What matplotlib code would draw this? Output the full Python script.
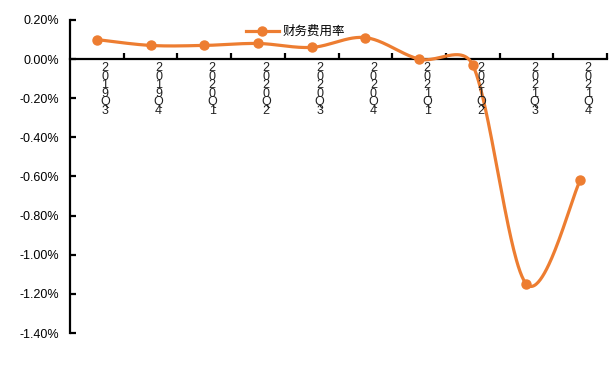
import numpy as np
import matplotlib
matplotlib.use("Agg")
from matplotlib import pyplot as plt
from matplotlib.ticker import FuncFormatter, MultipleLocator

plt.rcParams['font.family'] = ['Liberation Sans', 'Noto Sans CJK SC', 'DejaVu Sans']

# quarterly finance-expense ratio, in percent
quarters = ["2019Q3", "2019Q4", "2020Q1", "2020Q2", "2020Q3",
            "2020Q4", "2021Q1", "2021Q2", "2021Q3", "2021Q4"]
ratio = [0.10, 0.07, 0.07, 0.08, 0.06, 0.11, 0.00, -0.03, -1.15, -0.62]
series_name = "财务费用率"

color = "#ED7D31"

# pixel scale of one x unit / one percent, so the smoothing works in screen space
XPX, YPX = 53.7, 195.6


def smooth(xs, ys, k=0.45, n=60):
    # Catmull-Rom style bezier (1/6 of the neighbour chord),
    # control arm capped at k times the segment length
    P = np.column_stack([np.asarray(xs, float) * XPX, np.asarray(ys, float) * YPX])
    m = len(P)
    tang = [(P[min(i + 1, m - 1)] - P[max(i - 1, 0)]) / 6 for i in range(m)]
    out = []
    for i in range(m - 1):
        L = np.hypot(*(P[i + 1] - P[i]))
        a1, a2 = tang[i], tang[i + 1]
        n1, n2 = np.hypot(*a1), np.hypot(*a2)
        if n1 > k * L:
            a1 = a1 * k * L / n1
        if n2 > k * L:
            a2 = a2 * k * L / n2
        c1 = P[i] + a1
        c2 = P[i + 1] - a2
        t = np.linspace(0, 1, n)[:, None]
        out.append((1 - t) ** 3 * P[i] + 3 * (1 - t) ** 2 * t * c1
                   + 3 * (1 - t) * t ** 2 * c2 + t ** 3 * P[i + 1])
    out = np.vstack(out)
    return out[:, 0] / XPX, out[:, 1] / YPX


fig = plt.figure(figsize=(6.1, 3.67), dpi=100)
ax = fig.add_axes([70 / 610, 1 - 333 / 367, 537 / 610, 313 / 367])

x = np.arange(len(quarters))
sx, sy = smooth(x, ratio)
ax.plot(sx, sy, color=color, lw=2.3, solid_capstyle='round', zorder=3)
ax.plot(x, ratio, 'o', color=color, ms=6.5, zorder=4)
# legend handle
ax.plot([], [], '-o', color=color, lw=2.3, ms=6.5, label=series_name)

ax.set_xlim(-0.5, len(quarters) - 0.5)
ax.set_ylim(-1.4, 0.2)
ax.yaxis.set_major_locator(MultipleLocator(0.2))
ax.yaxis.set_major_formatter(FuncFormatter(lambda v, p: f"{v:.2f}%"))

ax.spines['right'].set_visible(False)
ax.spines['top'].set_visible(False)
ax.spines['bottom'].set_position(('data', 0))
ax.spines['left'].set_linewidth(1.6)
ax.spines['bottom'].set_linewidth(1.6)

ax.set_xticks(np.arange(len(quarters)) + 0.5)
ax.set_xticklabels([])
ax.tick_params(axis='x', direction='in', length=4, width=1.6)
ax.tick_params(axis='y', direction='in', length=4, width=1.6, labelsize=9, pad=8)

# vertical stacked category labels under the zero line
for i, q in enumerate(quarters):
    ax.text(i + 0.15, -0.015, "\n".join(q), ha='center', va='top',
            fontsize=9, linespacing=0.62, color='#222222')

ax.legend(loc='upper center', bbox_to_anchor=(0.42, 1.02), frameon=False,
          handlelength=2.6, handletextpad=0.3,
          prop={'family': ['Noto Sans CJK SC', 'DejaVu Sans'], 'size': 9})

fig.savefig("out.png", dpi=100)
